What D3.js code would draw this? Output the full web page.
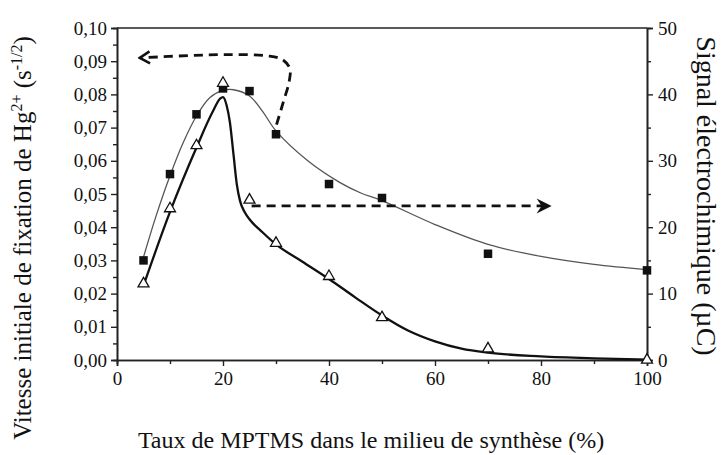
<!DOCTYPE html>
<html><head><meta charset="utf-8">
<script src="https://cdn.jsdelivr.net/npm/d3@7/dist/d3.min.js"></script>
<style>
html,body{margin:0;padding:0;background:#fff;}
svg{display:block;}
svg text{font-family:'Liberation Serif', Tinos, 'Times New Roman', Times, 'DejaVu Serif', serif !important;}
</style></head>
<body>
<script>
// ---- data ----
const xTicks = [0, 20, 40, 60, 80, 100];
const leftTicks = [0, 0.01, 0.02, 0.03, 0.04, 0.05, 0.06, 0.07, 0.08, 0.09, 0.10];
const rightTicks = [0, 10, 20, 30, 40, 50];

// Hg2+ fixation rate (left axis), filled squares
const squareX = [5, 10, 15, 20, 25, 30, 40, 50, 70, 100];
const squareY = [0.030, 0.056, 0.074, 0.0818, 0.081, 0.068, 0.053, 0.0488, 0.032, 0.027];
// fitted thin curve (left axis)
const fitThinX = [5, 7.5, 10, 12.5, 15, 17.5, 20, 22, 25, 27.5, 30, 36, 42, 46, 50, 60, 70, 80, 90, 100];
const fitThinY = [0.031, 0.044, 0.0555, 0.0655, 0.0735, 0.079, 0.0812, 0.0814, 0.0795, 0.0748, 0.069, 0.060, 0.0535, 0.0503, 0.048, 0.0408, 0.0348, 0.0312, 0.0288, 0.0272];

// electrochemical signal (right axis), open triangles
const triX = [5, 10, 15, 20, 25, 30, 40, 50, 70, 100];
const triY = [11.5, 22.8, 32.3, 41.7, 24.1, 17.6, 12.6, 6.4, 1.7, 0];
// fitted thick curve (right axis)
const fitThickX = [5, 10, 15, 18, 19.5, 20, 20.7, 21.3, 22, 22.6, 23.2, 24, 25, 27.5, 30, 35, 40, 45, 50, 55, 60, 65, 70, 80, 90, 100];
const fitThickY = [11.2, 22.3, 32, 37.3, 39.4, 39.6, 38.3, 35.8, 30.8, 26.5, 24, 22.4, 21.2, 19.2, 17.4, 14.8, 12.2, 9.4, 6.7, 4.4, 2.8, 1.7, 1.1, 0.55, 0.25, 0.05];

// annotation arrows (data units)
const arrowLeftX = [30.1, 31.4, 32.5, 32.6, 31.2, 28.4, 21.3, 13.7, 4.3];
const arrowLeftY = [0.0709, 0.0778, 0.0840, 0.0878, 0.0905, 0.0916, 0.0920, 0.0917, 0.0910];
const arrowRightX = [25.4, 82];
const arrowRightY = [23.2, 23.2];

// ---- layout ----
const W = 727, H = 455;
const L = 117, R = 647, T = 28, B = 360;
const FONT = "'Liberation Serif', Tinos, 'Times New Roman', Times, 'DejaVu Serif', serif";

const svg = d3.select("body").append("svg").attr("width", W).attr("height", H)
  .attr("font-family", FONT);

const x = d3.scaleLinear().domain([0, 100]).range([L, R]);
const yL = d3.scaleLinear().domain([0, 0.10]).range([B, T]);
const yR = d3.scaleLinear().domain([0, 50]).range([B, T]);

const fmtL = d => d.toFixed(2).replace(".", ",");

// minor ticks
const gMinor = svg.append("g").attr("class", "minor");
gMinor.append("g").attr("transform", `translate(0,${B})`)
  .call(d3.axisBottom(x).tickValues(d3.range(10, 100, 20)).tickSize(4).tickFormat(""));
gMinor.append("g").attr("transform", `translate(${L},0)`)
  .call(d3.axisLeft(yL).tickValues(d3.range(0.005, 0.1, 0.01)).tickSize(4).tickFormat(""));
gMinor.append("g").attr("transform", `translate(${R},0)`)
  .call(d3.axisRight(yR).tickValues(d3.range(5, 50, 10)).tickSize(4).tickFormat(""));

// major axes
svg.append("g").attr("transform", `translate(0,${B})`)
  .call(d3.axisBottom(x).tickValues(xTicks).tickSize(6).tickPadding(6).tickFormat(d3.format("d")));
svg.append("g").attr("transform", `translate(${L},0)`)
  .call(d3.axisLeft(yL).tickValues(leftTicks).tickSize(6).tickPadding(4).tickFormat(fmtL));
svg.append("g").attr("transform", `translate(${R},0)`)
  .call(d3.axisRight(yR).tickValues(rightTicks).tickSize(6).tickPadding(5).tickFormat(d3.format("d")));

// top border
svg.append("line").attr("x1", x(0)).attr("x2", x(100)).attr("y1", yL(0.10)).attr("y2", yL(0.10))
  .attr("stroke", "#222").attr("stroke-width", 1.6);

svg.selectAll("g").attr("font-family", null);
svg.selectAll(".domain").attr("stroke", "#222").attr("stroke-width", 1.6);
svg.selectAll(".tick line").attr("stroke", "#222").attr("stroke-width", 1.4);
svg.selectAll(".tick text").attr("font-family", FONT).attr("font-size", 19).attr("fill", "#111");

// fitted curves
const thinData = fitThinX.map((v, i) => [v, fitThinY[i]]);
const thickData = fitThickX.map((v, i) => [v, fitThickY[i]]);

svg.append("path").datum(thinData)
  .attr("d", d3.line().x(d => x(d[0])).y(d => yL(d[1])).curve(d3.curveCatmullRom.alpha(0.5)))
  .attr("fill", "none").attr("stroke", "#555").attr("stroke-width", 1.3);

svg.append("path").datum(thickData)
  .attr("d", d3.line().x(d => x(d[0])).y(d => yR(d[1])).curve(d3.curveMonotoneX))
  .attr("fill", "none").attr("stroke", "#111").attr("stroke-width", 2.3);

// squares
const sq = 8.5;
svg.append("g").selectAll("rect").data(squareX.map((v, i) => [v, squareY[i]])).join("rect")
  .attr("x", d => x(d[0]) - sq / 2).attr("y", d => yL(d[1]) - sq / 2)
  .attr("width", sq).attr("height", sq).attr("fill", "#111");

// triangles
const tri = d3.symbol().type(d3.symbolTriangle).size(52);
svg.append("g").selectAll("path").data(triX.map((v, i) => [v, triY[i]])).join("path")
  .attr("d", tri)
  .attr("transform", d => `translate(${x(d[0])},${yR(d[1])})`)
  .attr("fill", "#fff").attr("stroke", "#111").attr("stroke-width", 1.3);

// dashed annotation arrows
const defs = svg.append("defs");
defs.append("marker").attr("id", "openArrow").attr("viewBox", "-12 -8 14 16")
  .attr("refX", 0).attr("refY", 0).attr("markerWidth", 14).attr("markerHeight", 16)
  .attr("markerUnits", "userSpaceOnUse").attr("orient", "auto")
  .append("path").attr("d", "M-10,-6 L0,0 L-10,6").attr("fill", "none")
  .attr("stroke", "#111").attr("stroke-width", 2.6);
defs.append("marker").attr("id", "fillArrow").attr("viewBox", "-16 -9 18 18")
  .attr("refX", 0).attr("refY", 0).attr("markerWidth", 18).attr("markerHeight", 18)
  .attr("markerUnits", "userSpaceOnUse").attr("orient", "auto")
  .append("path").attr("d", "M-15,-7.5 L0,0 L-15,7.5 L-10,0 Z").attr("fill", "#111");

const leftArrow = arrowLeftX.map((v, i) => [v, arrowLeftY[i]]);
svg.append("path").datum(leftArrow)
  .attr("d", d3.line().x(d => x(d[0])).y(d => yL(d[1])).curve(d3.curveCatmullRom.alpha(0.5)))
  .attr("fill", "none").attr("stroke", "#111").attr("stroke-width", 2.8)
  .attr("stroke-dasharray", "9,6").attr("marker-end", "url(#openArrow)");

const rightArrow = arrowRightX.map((v, i) => [v, arrowRightY[i]]);
svg.append("path").datum(rightArrow)
  .attr("d", d3.line().x(d => x(d[0])).y(d => yR(d[1])))
  .attr("fill", "none").attr("stroke", "#111").attr("stroke-width", 2.8)
  .attr("stroke-dasharray", "9,6").attr("marker-end", "url(#fillArrow)");

// axis titles
svg.append("text").attr("x", 371).attr("y", 448).attr("text-anchor", "middle")
  .attr("font-size", 24).attr("fill", "#111")
  .text("Taux de MPTMS dans le milieu de synthèse (%)");

const lt = svg.append("text").attr("transform", `translate(31,238) rotate(-90)`)
  .attr("text-anchor", "middle").attr("font-size", 25).attr("fill", "#111");
lt.append("tspan").text("Vitesse initiale de fixation de Hg");
lt.append("tspan").attr("dy", -9).attr("font-size", 16).text("2+");
lt.append("tspan").attr("dy", 9).text(" (s");
lt.append("tspan").attr("dy", -9).attr("font-size", 16).text("-1/2");
lt.append("tspan").attr("dy", 9).text(")");

svg.append("text").attr("transform", `translate(697,196) rotate(90)`)
  .attr("text-anchor", "middle").attr("font-size", 28).attr("fill", "#111")
  .text("Signal électrochimique (µC)");
</script>
</body></html>
